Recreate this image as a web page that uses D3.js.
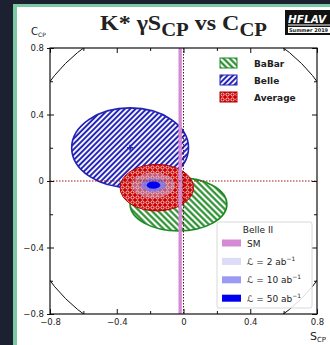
<!DOCTYPE html>
<html>
<head>
<meta charset="utf-8">
<script src="https://cdn.jsdelivr.net/npm/d3@7"></script>
<style>
    body { margin: 0; background: #1b2130; }
    svg { display: block; }
    text { font-family: "DejaVu Sans", sans-serif; fill: #222; }
</style>
</head>
<body>
<svg id="chart" width="330" height="345"></svg>
<script>
(function (d3) {
    'use strict';

    // measurements: S_CP and C_CP with errors
    var experiments = ['BaBar', 'Belle', 'Average'];
    var sValues = [-0.03, -0.32, -0.16];
    var sErrors = [0.29, 0.35, 0.22];
    var cValues = [-0.14, 0.20, -0.04];
    var cErrors = [0.16, 0.24, 0.14];

    // Belle II projections around the average
    var lumiLabels = ['2', '10', '50'];
    var belle2S = -0.18, belle2C = -0.025;
    var belle2SErr = [0.13, 0.075, 0.04];
    var belle2CErr = [0.075, 0.04, 0.022];
    var smS = -0.02, smHalfWidth = 0.01;

    var majorTicks = [-0.8, -0.4, 0, 0.4, 0.8];
    var minorTicks = [-0.6, -0.2, 0.2, 0.6];

    var colors = {
        BaBar: { line: '#1f8a24', fill: '#1f8a24' },
        Belle: { line: '#2222b4', fill: '#2424b8' },
        Average: { line: '#b40000', fill: '#cc0000' }
    };
    var lumiColors = ['#c4c4f2', '#7878ee', '#0000f0'];
    var lumiOpacity = [0.45, 0.75, 1];

    var svg = d3.select('#chart');

    // page frame
    svg.append('rect').attr('x', 13).attr('y', 4).attr('width', 330).attr('height', 345).attr('fill', '#7dc9a2');
    svg.append('rect').attr('x', 17).attr('y', 7).attr('width', 330).attr('height', 345).attr('fill', '#ffffff');

    var plot = { left: 50, right: 317, top: 48, bottom: 314 };

    var x = d3.scaleLinear().domain([-0.8, 0.8]).range([plot.left, plot.right]),
        y = d3.scaleLinear().domain([-0.8, 0.8]).range([plot.bottom, plot.top]);

    var defs = svg.append('defs');
    defs.append('clipPath').attr('id', 'clip')
        .append('rect')
        .attr('x', plot.left).attr('y', plot.top)
        .attr('width', plot.right - plot.left).attr('height', plot.bottom - plot.top);

    function hatch(id, color, angle, size, lw) {
        var p = defs.append('pattern').attr('id', id)
            .attr('patternUnits', 'userSpaceOnUse')
            .attr('width', size).attr('height', size)
            .attr('patternTransform', 'rotate(' + angle + ')');
        p.append('rect').attr('width', size).attr('height', size).attr('fill', '#fff');
        p.append('line').attr('x1', size / 2).attr('x2', size / 2).attr('y1', 0).attr('y2', size)
            .attr('stroke', color).attr('stroke-width', lw);
    }
    hatch('hatch-BaBar', colors.BaBar.fill, -45, 4.4, 2.1);
    hatch('hatch-Belle', colors.Belle.fill, 45, 3.8, 2);

    var rings = defs.append('pattern').attr('id', 'hatch-Average')
        .attr('patternUnits', 'userSpaceOnUse')
        .attr('width', 5).attr('height', 5);
    rings.append('rect').attr('width', 5).attr('height', 5).attr('fill', colors.Average.fill);
    rings.append('circle').attr('cx', 2.5).attr('cy', 2.5).attr('r', 1.6)
        .attr('fill', 'none').attr('stroke', '#fff').attr('stroke-width', 0.8);

    // title
    var title = svg.append('text')
        .attr('x', 100).attr('y', 30)
        .style('font-family', '"Liberation Serif", "Times New Roman", serif')
        .style('font-weight', 'bold')
        .style('font-size', '22px')
        .attr('fill', '#111')
        .attr('textLength', 167)
        .attr('lengthAdjust', 'spacingAndGlyphs');
    title.append('tspan').text('K* \u03b3S');
    title.append('tspan').attr('dy', 6).style('font-size', '19px').text('CP');
    title.append('tspan').attr('dy', -6).text(' vs C');
    title.append('tspan').attr('dy', 6).style('font-size', '19px').text('CP');

    // HFLAV logo
    var logo = svg.append('g');
    logo.append('rect').attr('x', 285).attr('y', 10).attr('width', 50).attr('height', 25).attr('fill', '#111');
    logo.append('text').attr('x', 288).attr('y', 22.5)
        .style('font-family', '"DejaVu Sans", sans-serif')
        .style('font-size', '10.5px').style('font-weight', 'bold').style('font-style', 'italic')
        .style('fill', '#fff').text('HFLAV');
    logo.append('line').attr('x1', 288).attr('x2', 330).attr('y1', 25).attr('y2', 25)
        .attr('stroke', '#fff').attr('stroke-width', 1);
    logo.append('rect').attr('x', 288).attr('y', 27).attr('width', 45).attr('height', 6).attr('fill', '#fff');
    logo.append('text').attr('x', 289).attr('y', 32.3)
        .style('font-size', '5px').style('font-weight', 'bold').text('Summer 2019');

    var g = svg.append('g').attr('clip-path', 'url(#clip)');

    // ellipses: BaBar, Belle, Average
    var order = [0, 1, 2];
    g.selectAll('.meas')
        .data(order)
        .enter().append('ellipse')
        .attr('class', 'meas')
        .attr('cx', function (i) { return x(sValues[i]); })
        .attr('cy', function (i) { return y(cValues[i]); })
        .attr('rx', function (i) { return x(sValues[i] + sErrors[i]) - x(sValues[i]); })
        .attr('ry', function (i) { return y(cValues[i]) - y(cValues[i] + cErrors[i]); })
        .attr('fill', function (i) { return 'url(#hatch-' + experiments[i] + ')'; })
        .attr('stroke', function (i) { return colors[experiments[i]].line; })
        .attr('stroke-width', function (i) { return i === 2 ? 1 : 1.6; });

    // Belle II projections
    g.selectAll('.proj')
        .data(lumiLabels)
        .enter().append('ellipse')
        .attr('class', 'proj')
        .attr('cx', x(belle2S))
        .attr('cy', y(belle2C))
        .attr('rx', function (d, i) { return x(belle2S + belle2SErr[i]) - x(belle2S); })
        .attr('ry', function (d, i) { return y(belle2C) - y(belle2C + belle2CErr[i]); })
        .attr('fill', function (d, i) { return lumiColors[i]; })
        .attr('fill-opacity', function (d, i) { return lumiOpacity[i]; });

    // Belle central value marker
    var bx = x(sValues[1]), by = y(cValues[1]);
    g.append('path')
        .attr('d', 'M' + (bx - 3) + ',' + by + 'H' + (bx + 3) + 'M' + bx + ',' + (by - 3) + 'V' + (by + 3))
        .attr('stroke', colors.Belle.line).attr('stroke-width', 1.5);

    // SM band
    g.append('rect')
        .attr('x', x(smS - smHalfWidth))
        .attr('y', plot.top)
        .attr('width', x(smS + smHalfWidth) - x(smS - smHalfWidth))
        .attr('height', plot.bottom - plot.top)
        .attr('fill', '#d48bd4');

    // zero lines
    g.append('line')
        .attr('x1', plot.left).attr('x2', plot.right)
        .attr('y1', y(0)).attr('y2', y(0))
        .attr('stroke', '#a01818').attr('stroke-width', 1).attr('stroke-dasharray', '1.5,1.5');
    g.append('line')
        .attr('x1', x(0)).attr('x2', x(0))
        .attr('y1', plot.top).attr('y2', plot.bottom)
        .attr('stroke', '#5a1020').attr('stroke-width', 1).attr('stroke-dasharray', '1.5,1.5');

    // physical boundary S^2 + C^2 = 1
    g.append('ellipse')
        .attr('cx', x(0)).attr('cy', y(0))
        .attr('rx', x(1) - x(0)).attr('ry', y(0) - y(1))
        .attr('fill', 'none').attr('stroke', '#111').attr('stroke-width', 1);

    // axes
    var fmt = function (d) { return d === 0 ? '0' : d3.format('.1f')(d); };

    function axisGroup(axis, tx, ty) {
        var a = svg.append('g').attr('transform', 'translate(' + tx + ',' + ty + ')').call(axis);
        a.select('.domain').remove();
        a.selectAll('line').attr('stroke', '#111');
        a.selectAll('text').style('font-size', '8.5px').attr('fill', '#222');
        return a;
    }

    axisGroup(d3.axisBottom(x).tickValues(majorTicks).tickSize(-5).tickPadding(5).tickFormat(fmt), 0, plot.bottom);
    axisGroup(d3.axisBottom(x).tickValues(minorTicks).tickSize(-3).tickFormat(''), 0, plot.bottom);
    axisGroup(d3.axisTop(x).tickValues(majorTicks).tickSize(-5).tickFormat(''), 0, plot.top);
    axisGroup(d3.axisTop(x).tickValues(minorTicks).tickSize(-3).tickFormat(''), 0, plot.top);
    axisGroup(d3.axisLeft(y).tickValues(majorTicks).tickSize(-4).tickPadding(6).tickFormat(fmt), plot.left, 0);
    axisGroup(d3.axisLeft(y).tickValues(majorTicks).tickSize(3).tickFormat(''), plot.left, 0);
    axisGroup(d3.axisLeft(y).tickValues(minorTicks).tickSize(-3).tickFormat(''), plot.left, 0);
    axisGroup(d3.axisRight(y).tickValues(majorTicks).tickSize(-5).tickFormat(''), plot.right, 0);
    axisGroup(d3.axisRight(y).tickValues(minorTicks).tickSize(-3).tickFormat(''), plot.right, 0);

    svg.append('rect')
        .attr('x', plot.left).attr('y', plot.top)
        .attr('width', plot.right - plot.left).attr('height', plot.bottom - plot.top)
        .attr('fill', 'none').attr('stroke', '#111').attr('stroke-width', 1.2);

    // axis titles
    var yt = svg.append('text').attr('x', 31).attr('y', 35).style('font-size', '10px');
    yt.append('tspan').text('C');
    yt.append('tspan').attr('dy', 2).style('font-size', '6px').text('CP');
    var xt = svg.append('text').attr('x', 310).attr('y', 340).style('font-size', '11px');
    xt.append('tspan').text('S');
    xt.append('tspan').attr('dy', 2).style('font-size', '7px').text('CP');

    // measurement legend
    var legend = svg.selectAll('.legend')
        .data(order)
        .enter().append('g')
        .attr('class', 'legend')
        .attr('transform', function (i) { return 'translate(220,' + (58 + i * 17) + ')'; });
    legend.append('rect')
        .attr('width', 17).attr('height', 10)
        .attr('fill', function (i) { return 'url(#hatch-' + experiments[i] + ')'; })
        .attr('stroke', function (i) { return colors[experiments[i]].line; })
        .attr('stroke-width', 1);
    legend.append('text')
        .attr('x', 34).attr('y', 9)
        .style('font-size', '9px').style('font-weight', 'bold')
        .text(function (i) { return experiments[i]; });

    // Belle II legend
    var bl = svg.append('g').attr('transform', 'translate(217,222)');
    bl.append('rect').attr('width', 95).attr('height', 86)
        .attr('fill', '#fff').attr('fill-opacity', 0.85)
        .attr('stroke', '#d8d8d8').attr('stroke-width', 1).attr('rx', 2);
    bl.append('text').attr('x', 41).attr('y', 11).attr('text-anchor', 'middle')
        .style('font-size', '9px').text('Belle II');

    var rows = [{ label: 'SM', color: '#d48bd4', op: 1 }].concat(lumiLabels.map(function (l, i) {
        return { label: '\u2112 = ' + l + ' ab', color: lumiColors[i], op: Math.max(lumiOpacity[i], 0.6) };
    }));
    var row = bl.selectAll('.row').data(rows).enter().append('g')
        .attr('class', 'row')
        .attr('transform', function (d, i) { return 'translate(5,' + (21 + i * 18.4) + ')'; });
    row.append('rect').attr('y', -3.5).attr('width', 19).attr('height', 7)
        .attr('fill', function (d) { return d.color; })
        .attr('fill-opacity', function (d) { return d.op; });
    var rt = row.append('text').attr('x', 25).attr('y', 3.5).style('font-size', '9px');
    rt.append('tspan').text(function (d) { return d.label; });
    rt.filter(function (d, i) { return i > 0; })
        .append('tspan').attr('dy', -4).style('font-size', '6px').text('\u22121');

})(window.d3);
</script>
</body>
</html>
